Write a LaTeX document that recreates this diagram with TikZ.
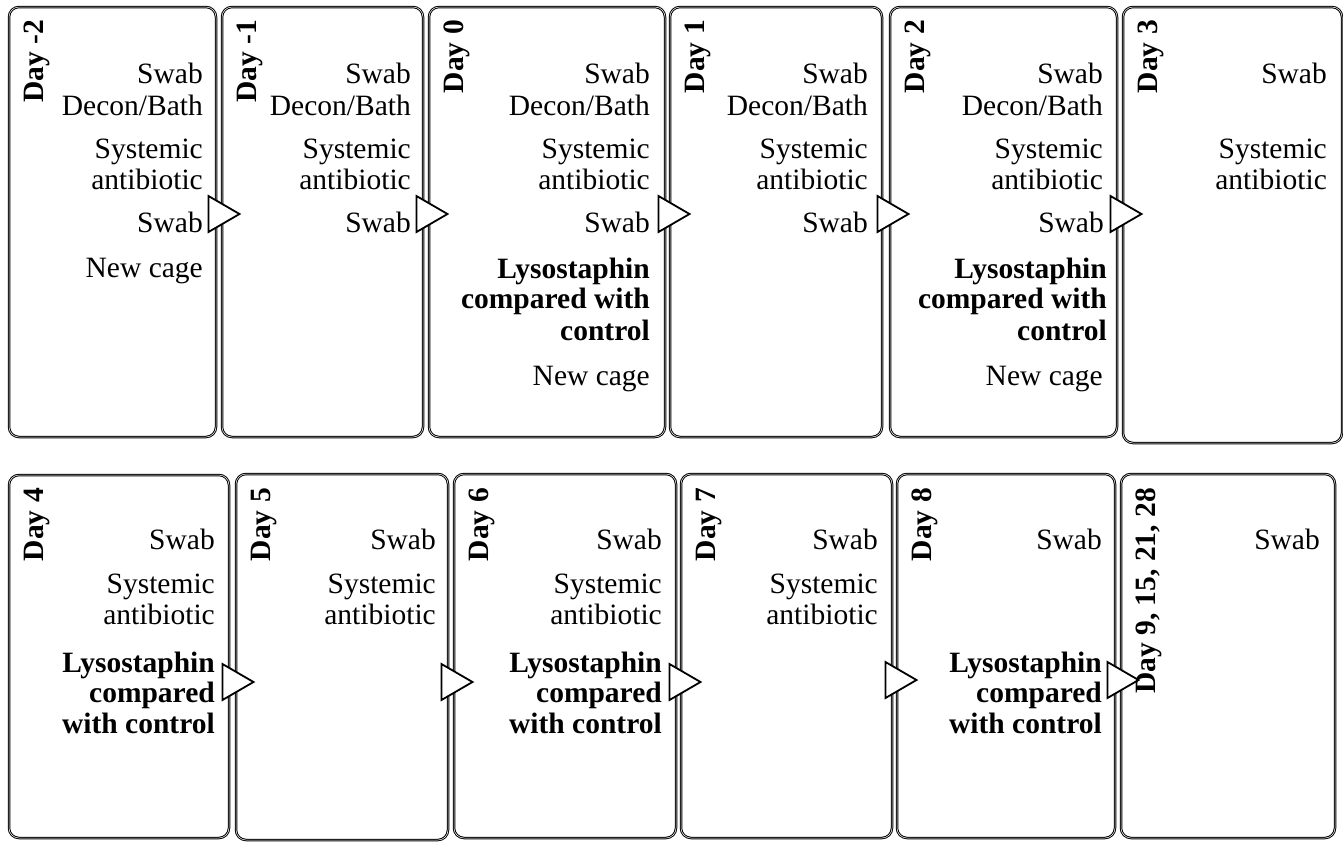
\documentclass[tikz,border=0pt]{standalone}
\usepackage{fontspec}
\setmainfont{Liberation Serif}
\usetikzlibrary{calc}
\begin{document}
\begin{tikzpicture}[x=1pt,y=1pt,
  daybox/.style={draw, double, line width=1pt, double distance=0.5pt, rounded corners=10pt, inner sep=0pt},
  tri/.style={draw, line width=1.8pt, fill=white, line join=miter},
  itm/.style={font=\fontsize{29.5}{31}\selectfont, inner sep=0pt, anchor=base east},
  bitm/.style={itm, font=\fontsize{29.5}{31}\selectfont\bfseries},
  lbl/.style={font=\fontsize{29.5}{31}\selectfont\bfseries, inner sep=0pt, rotate=90, anchor=base east}]
\useasboundingbox (0,0) rectangle (1343,-841);
\newcommand\mkbox[5]{\node[daybox, minimum width={#4-#2}, minimum height={#5-#3}] (#1) at ({(#2+#4)/2},{-(#3+#5)/2}) {};}
\newcommand\daytri[3]{\draw[tri] ($(#1.east |- 0,-#2)+(-#3,18)$) -- ++(31,-18) -- ++(-31,-18) -- cycle;}
% boxes
\mkbox{b1}{9}{7}{216}{437}
\mkbox{b2}{222}{7}{423}{437}
\mkbox{b3}{429}{7}{665}{437}
\mkbox{b4}{670}{7}{882}{437}
\mkbox{b5}{890}{7}{1117}{437}
\mkbox{b6}{1123}{7}{1342}{443}
\mkbox{b7}{9}{475}{229}{838}
\mkbox{b8}{236}{474}{448}{840}
\mkbox{b9}{454}{474}{676}{838}
\mkbox{b10}{681}{474}{892}{838}
\mkbox{b11}{897}{474}{1115}{838}
\mkbox{b12}{1121}{474}{1335}{838}
% arrows between boxes
\daytri{b1}{214}{8}
\daytri{b2}{214}{7}
\daytri{b3}{214}{7}
\daytri{b4}{214}{5}
\daytri{b5}{214}{7}
\daytri{b7}{682}{7}
\daytri{b8}{682}{7}
\daytri{b9}{682}{7}
\daytri{b10}{680}{7}
\daytri{b11}{680}{8}
% labels
\node[lbl] (l1) at (43,-20) {Day -2};
\node[lbl] (l2) at (256,-20) {Day -1};
\node[lbl] (l3) at (463,-20) {Day 0};
\node[lbl] (l4) at (704,-20) {Day 1};
\node[lbl] (l5) at (924,-20) {Day 2};
\node[lbl] (l6) at (1157,-20) {Day 3};
\node[lbl] (l7) at (43,-488) {Day 4};
\node[lbl] (l8) at (270,-488) {Day 5};
\node[lbl] (l9) at (488,-488) {Day 6};
\node[lbl] (l10) at (715,-488) {Day 7};
\node[lbl] (l11) at (931,-488) {Day 8};
\node[lbl] (l12) at (1155,-488) {Day 9, 15, 21, 28};
% box 1
\node[itm] (b1a) at (203,-83) {Swab};
\node[itm] (b1b) at (203,-115) {Decon/Bath};
\node[itm] (b1c) at (203,-158) {Systemic};
\node[itm] (b1d) at (203,-189) {antibiotic};
\node[itm] (b1e) at (203,-232) {Swab};
\node[itm] (b1f) at (203,-277) {New cage};
% box 2
\node[itm] (b2a) at (411,-83) {Swab};
\node[itm] (b2b) at (411,-115) {Decon/Bath};
\node[itm] (b2c) at (411,-158) {Systemic};
\node[itm] (b2d) at (411,-189) {antibiotic};
\node[itm] (b2e) at (411,-232) {Swab};
% box 3
\node[itm] (b3a) at (650,-83) {Swab};
\node[itm] (b3b) at (650,-115) {Decon/Bath};
\node[itm] (b3c) at (650,-158) {Systemic};
\node[itm] (b3d) at (650,-189) {antibiotic};
\node[itm] (b3e) at (650,-232) {Swab};
\node[bitm] (b3f) at (650,-278) {Lysostaphin};
\node[bitm] (b3g) at (650,-308) {compared with};
\node[bitm] (b3h) at (650,-340) {control};
\node[itm] (b3i) at (650,-385) {New cage};
% box 4
\node[itm] (b4a) at (868,-83) {Swab};
\node[itm] (b4b) at (868,-115) {Decon/Bath};
\node[itm] (b4c) at (868,-158) {Systemic};
\node[itm] (b4d) at (868,-189) {antibiotic};
\node[itm] (b4e) at (868,-232) {Swab};
% box 5
\node[itm] (b5a) at (1103,-83) {Swab};
\node[itm] (b5b) at (1103,-115) {Decon/Bath};
\node[itm] (b5c) at (1103,-158) {Systemic};
\node[itm] (b5d) at (1103,-189) {antibiotic};
\node[itm] (b5e) at (1104,-232) {Swab};
\node[bitm] (b5f) at (1107,-278) {Lysostaphin};
\node[bitm] (b5g) at (1107,-308) {compared with};
\node[bitm] (b5h) at (1107,-340) {control};
\node[itm] (b5i) at (1103,-385) {New cage};
% box 6
\node[itm] (b6a) at (1327,-83) {Swab};
\node[itm] (b6c) at (1327,-158) {Systemic};
\node[itm] (b6d) at (1327,-189) {antibiotic};
% box 7
\node[itm] (b7a) at (215,-549) {Swab};
\node[itm] (b7c) at (215,-593) {Systemic};
\node[itm] (b7d) at (215,-624) {antibiotic};
\node[bitm] (b7f) at (215,-672) {Lysostaphin};
\node[bitm] (b7g) at (215,-702) {compared};
\node[bitm] (b7h) at (215,-733) {with control};
% box 8
\node[itm] (b8a) at (436,-549) {Swab};
\node[itm] (b8c) at (436,-593) {Systemic};
\node[itm] (b8d) at (436,-624) {antibiotic};
% box 9
\node[itm] (b9a) at (662,-549) {Swab};
\node[itm] (b9c) at (662,-593) {Systemic};
\node[itm] (b9d) at (662,-624) {antibiotic};
\node[bitm] (b9f) at (662,-672) {Lysostaphin};
\node[bitm] (b9g) at (662,-702) {compared};
\node[bitm] (b9h) at (662,-733) {with control};
% box 10
\node[itm] (b10a) at (878,-549) {Swab};
\node[itm] (b10c) at (878,-593) {Systemic};
\node[itm] (b10d) at (878,-624) {antibiotic};
% box 11
\node[itm] (b11a) at (1102,-549) {Swab};
\node[bitm] (b11f) at (1102,-672) {Lysostaphin};
\node[bitm] (b11g) at (1102,-702) {compared};
\node[bitm] (b11h) at (1102,-733) {with control};
% box 12
\node[itm] (b12a) at (1320,-549) {Swab};
\end{tikzpicture}
\end{document}
